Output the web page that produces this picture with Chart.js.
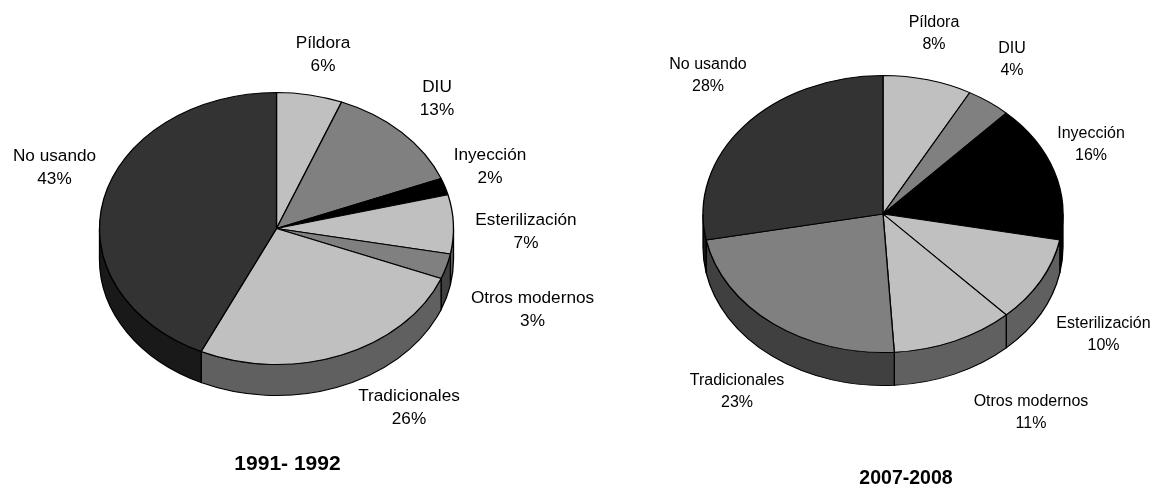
<!DOCTYPE html>
<html>
<head>
<meta charset="utf-8">
<title>Uso de anticonceptivos</title>
<style>
    html, body { margin: 0; padding: 0; background: #fff; }
    #page { position: relative; width: 1154px; height: 486px; overflow: hidden; }
    canvas { position: absolute; left: 0; top: 0; }
</style>
<script src="https://cdn.jsdelivr.net/npm/chart.js@4/dist/chart.umd.min.js"></script>
</head>
<body>
<div id="page">
    <canvas id="pie1" width="1154" height="486"></canvas>
    <canvas id="pie2" width="1154" height="486"></canvas>
</div>
<script>
var categories = ['Píldora', 'DIU', 'Inyección', 'Esterilización', 'Otros modernos', 'Tradicionales', 'No usando'];
var values1991 = [6, 13, 2, 7, 3, 26, 43];
var values2007 = [8, 4, 16, 10, 11, 23, 28];
var colors1991 = ['#c0c0c0', '#808080', '#000000', '#c0c0c0', '#808080', '#c0c0c0', '#333333'];
var colors2007 = ['#c0c0c0', '#808080', '#000000', '#c0c0c0', '#c0c0c0', '#808080', '#333333'];
var title1991 = '1991- 1992';
var title2007 = '2007-2008';

// label centres, same order as categories
var labelPos1991 = [[323, 43], [437, 87], [490, 155], [526, 220], [532.5, 298], [409, 396], [54.5, 156]];
var labelPos2007 = [[934, 22.5], [1012, 49], [1091, 133.5], [1103.5, 324], [1031, 402], [737, 380.5], [708, 65]];

var W = 1154, H = 486;
var FONT_FAMILY = '"Liberation Sans", Arial, sans-serif';

function halfColor(hex) {
    var n = parseInt(hex.slice(1), 16);
    var r = (n >> 16) >> 1, g = ((n >> 8) & 255) >> 1, b = (n & 255) >> 1;
    return 'rgb(' + r + ',' + g + ',' + b + ')';
}

// flattens the arcs into an ellipse and draws the side wall under them
var tiltPlugin = {
    id: 'tilt',
    beforeDatasetsDraw: function (chart, args, opts) {
        var ctx = chart.ctx;
        var arcs = chart.getDatasetMeta(0).data;
        var cx = arcs[0].x, cy = arcs[0].y, r = arcs[0].outerRadius;
        var k = opts.ry / r;
        var depth = opts.depth / k;
        ctx.save();
        ctx.translate(0, cy);
        ctx.scale(1, k);
        ctx.translate(0, -cy);
        ctx.lineWidth = opts.lineWidth;
        ctx.strokeStyle = '#000';
        arcs.forEach(function (arc, i) {
            var a0 = Math.max(arc.startAngle, 0);
            var a1 = Math.min(arc.endAngle, Math.PI);
            if (a1 <= a0) { return; }
            ctx.beginPath();
            ctx.arc(cx, cy, r, a0, a1);
            ctx.arc(cx, cy + depth, r, a1, a0, true);
            ctx.closePath();
            ctx.fillStyle = halfColor(chart.data.datasets[0].backgroundColor[i]);
            ctx.fill();
            ctx.stroke();
        });
    },
    afterDatasetsDraw: function (chart) {
        chart.ctx.restore();
    }
};

var labelPlugin = {
    id: 'pieLabels',
    afterDraw: function (chart, args, opts) {
        var ctx = chart.ctx;
        var data = chart.data.datasets[0].data;
        ctx.save();
        ctx.textAlign = 'center';
        ctx.textBaseline = 'middle';
        ctx.fillStyle = '#000';
        ctx.font = opts.fontSize + 'px ' + FONT_FAMILY;
        chart.data.labels.forEach(function (label, i) {
            var p = opts.positions[i];
            ctx.fillText(label, p[0], p[1]);
            ctx.fillText(data[i] + '%', p[0], p[1] + opts.lineGap);
        });
        ctx.font = 'bold ' + opts.titleSize + 'px ' + FONT_FAMILY;
        ctx.fillText(opts.title, opts.titleX, opts.titleY);
        ctx.restore();
    }
};

function makePie(id, values, colors, positions, geo, text) {
    return new Chart(document.getElementById(id), {
        type: 'pie',
        data: {
            labels: categories,
            datasets: [{ data: values, backgroundColor: colors, borderColor: '#000', borderWidth: 1.3, radius: geo.rx, clip: false }]
        },
        options: {
            responsive: false,
            animation: false,
            layout: {
                padding: {
                    left: Math.max(0, 2 * geo.cx - W),
                    right: Math.max(0, W - 2 * geo.cx),
                    top: Math.max(0, 2 * geo.cy - H),
                    bottom: Math.max(0, H - 2 * geo.cy)
                }
            },
            plugins: {
                legend: { display: false },
                tooltip: { enabled: false },
                tilt: { ry: geo.ry, depth: geo.depth, lineWidth: 1.3 },
                pieLabels: {
                    positions: positions,
                    fontSize: text.size,
                    lineGap: text.gap,
                    title: text.title,
                    titleSize: text.titleSize,
                    titleX: text.titleX,
                    titleY: text.titleY
                }
            }
        },
        plugins: [tiltPlugin, labelPlugin]
    });
}

makePie('pie1', values1991, colors1991, labelPos1991,
    { cx: 276.5, cy: 228.5, rx: 177, ry: 136, depth: 31 },
    { size: 17.2, gap: 23.5, title: title1991, titleSize: 21, titleX: 287.5, titleY: 464 });
makePie('pie2', values2007, colors2007, labelPos2007,
    { cx: 883, cy: 214, rx: 180, ry: 138.5, depth: 33 },
    { size: 16, gap: 21.7, title: title2007, titleSize: 19.5, titleX: 906, titleY: 478.5 });
</script>
</body>
</html>
